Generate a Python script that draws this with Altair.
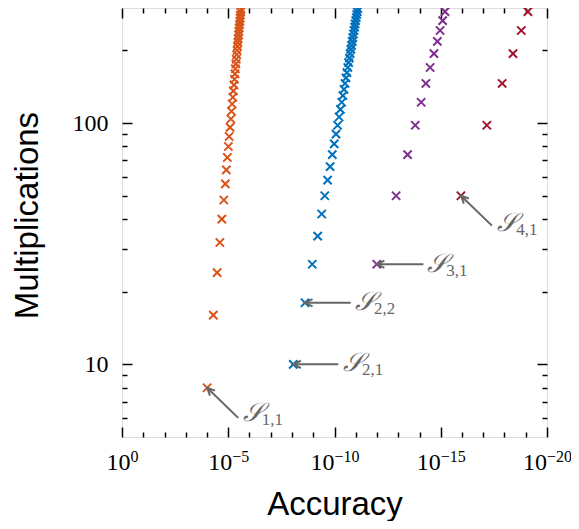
import math
import altair as alt
import pandas as pd

# ---------------- data ----------------
orange_mult = [8, 16, 24, 32, 40, 48, 56, 64, 72, 80, 88, 96, 104, 112, 120, 128, 136, 144,
               152, 160, 168, 176, 184, 192, 200, 208, 216, 224, 232, 240, 248, 256, 264, 272,
               280, 288, 296]
orange_log_acc = [-4.006, -4.298, -4.477, -4.604, -4.698, -4.793, -4.863, -4.910, -4.958, -5.005,
                  -5.042, -5.085, -5.122, -5.151, -5.184, -5.217, -5.240, -5.269, -5.292, -5.316,
                  -5.335, -5.358, -5.377, -5.396, -5.415, -5.434, -5.452, -5.467, -5.485, -5.500,
                  -5.514, -5.528, -5.547, -5.561, -5.570, -5.584, -5.598]

blue_mult = [10, 18, 26, 34, 42, 50, 58, 66, 74, 82, 90, 98, 106, 114, 122, 130, 138, 146, 154,
             162, 170, 178, 186, 194, 202, 210, 218, 226, 234, 242, 250, 258, 266, 274, 282, 290, 298]
blue_log_acc = [-8.058, -8.610, -8.954, -9.208, -9.397, -9.543, -9.675, -9.793, -9.896, -9.986,
                -10.071, -10.146, -10.217, -10.278, -10.339, -10.396, -10.448, -10.495, -10.542,
                -10.584, -10.627, -10.664, -10.702, -10.735, -10.768, -10.801, -10.834, -10.862,
                -10.891, -10.919, -10.947, -10.971, -10.999, -11.023, -11.046, -11.070, -11.093]

purple_mult = [26, 50, 74, 98, 122, 146, 170, 194, 218, 242, 266, 290]
purple_log_acc = [-11.99, -12.90, -13.44, -13.80, -14.08, -14.30, -14.50, -14.68, -14.84, -14.97,
                  -15.09, -15.20]

red_mult = [50, 98, 146, 194, 242, 290]
red_log_acc = [-15.95, -17.17, -17.89, -18.40, -18.79, -19.10]

series_names = ["S1", "S2", "S3", "S4"]
series_colors = ["#D95319", "#0072BD", "#7E2F8E", "#A2142F"]

# annotations
ann_sub = ["1,1", "2,1", "2,2", "3,1", "4,1"]
ann_tip_log_acc = [-4.006, -8.058, -8.610, -11.99, -15.95]
ann_tip_mult = [8, 10, 18, 26, 50]
ann_tail_log_acc = [-5.467, -10.179, -10.763, -14.185, -17.408]
ann_tail_mult = [6.0, 10, 18, 26, 37.6]
ann_text_log_acc = [-5.688, -10.40, -10.966, -14.36, -17.66]
ann_text_mult = [6.3, 10.1, 18.1, 26.1, 38.6]
ann_angle = [315, 270, 270, 270, 314]

# axis ticks / labels
x_major = [1, 1e-5, 1e-10, 1e-15, 1e-20]
x_major_base = ["10", "10", "10", "10", "10"]
x_major_exp = ["0", "−5", "−10", "−15", "−20"]
x_minor = [1e-1, 1e-2, 1e-3, 1e-4, 1e-6, 1e-7, 1e-8, 1e-9, 1e-11, 1e-12, 1e-13, 1e-14,
           1e-16, 1e-17, 1e-18, 1e-19]
y_major = [10, 100]
y_minor = [6, 7, 8, 9, 20, 30, 40, 50, 60, 70, 80, 90, 200]

# ---------------- tables ----------------
rows = []
for name, ms, ls in zip(series_names,
                        [orange_mult, blue_mult, purple_mult, red_mult],
                        [orange_log_acc, blue_log_acc, purple_log_acc, red_log_acc]):
    for m, l in zip(ms, ls):
        rows.append({"series": name, "mult": m, "acc": 10 ** l})
pts = pd.DataFrame(rows)

ann = pd.DataFrame({
    "sub": ann_sub,
    "tip_acc": [10 ** v for v in ann_tip_log_acc],
    "tip_mult": ann_tip_mult,
    "tail_acc": [10 ** v for v in ann_tail_log_acc],
    "tail_mult": ann_tail_mult,
    "text_acc": [10 ** v for v in ann_text_log_acc],
    "text_mult": ann_text_mult,
    "angle": ann_angle,
})

x_scale = alt.Scale(type="log", domain=[1e-20, 1], reverse=True, nice=False)
y_scale = alt.Scale(type="log", domain=[5, 300], nice=False)


def make_label_expr(labels):
    expr = ""
    for v, t in zip(x_major, labels):
        expr += f"abs(log(datum.value)/log(10) - ({round(math.log10(v))})) < 0.1 ? '{t}' : "
    return expr + "''"


# split point between "10" and its exponent, so that each whole label is centred on its tick
split_offset = {"condition": [{"test": "datum.value > 0.5", "value": 8},
                              {"test": "datum.value > 1e-6", "value": 3.5}],
                "value": -0.5}

SERIF = "Liberation Serif"
SANS = "Liberation Sans"
GRAY = "#666666"
XSHAPE = "M-1,-1L1,1M-1,1L1,-1"
CHEVRON = "M-0.9,1.9L0,0L0.9,1.9"

points = alt.Chart(pts).mark_point(shape=XSHAPE, filled=False, size=68, strokeWidth=2,
                                   opacity=1).encode(
    x=alt.X("acc:Q", scale=x_scale,
            axis=alt.Axis(orient="bottom", values=x_major, labelExpr=make_label_expr(x_major_base),
                          ticks=False, tickSize=0, domain=False, grid=False, labelPadding=13,
                          labelFlush=False, labelOverlap=False, labelFont=SERIF,
                          labelFontSize=24, labelAlign="right", labelOffset=split_offset,
                          labelColor="black", title="Accuracy", titleFont=SANS,
                          titleFontSize=33, titleFontWeight="normal", titleColor="black",
                          titleBaseline="alphabetic", titleY=77)),
    y=alt.Y("mult:Q", scale=y_scale,
            axis=alt.Axis(orient="left", values=y_major, format="d", ticks=False, tickSize=0,
                          domain=False, grid=False, labelPadding=14, labelFlush=False,
                          labelOverlap=False, labelFont=SERIF, labelFontSize=24,
                          labelColor="black", title="Multiplications", titleFont=SANS,
                          titleFontSize=33, titleFontWeight="normal", titleColor="black",
                          titleBaseline="alphabetic", titleX=-85, titleY=207)),
    color=alt.Color("series:N", scale=alt.Scale(domain=series_names, range=series_colors),
                    legend=None),
)

exponents = alt.Chart(pts).mark_point(opacity=0).encode(
    x=alt.X("acc:Q", scale=x_scale,
            axis=alt.Axis(orient="bottom", values=x_major, labelExpr=make_label_expr(x_major_exp),
                          ticks=False, tickSize=0, domain=False, grid=False, labelPadding=11,
                          labelFlush=False, labelOverlap=False, labelFont=SERIF,
                          labelFontSize=16, labelAlign="left", labelOffset=split_offset,
                          labelColor="black", title=None)),
    y=alt.Y("mult:Q", scale=y_scale, axis=None),
)


def tick_layer(xorient, yorient, xvals, yvals, size):
    return alt.Chart(pts).mark_point(opacity=0).encode(
        x=alt.X("acc:Q", scale=x_scale,
                axis=alt.Axis(orient=xorient, values=xvals, labels=False, domain=False,
                              grid=False, title=None, tickSize=size, offset=-size,
                              tickWidth=1.5, tickColor="black")),
        y=alt.Y("mult:Q", scale=y_scale,
                axis=alt.Axis(orient=yorient, values=yvals, labels=False, domain=False,
                              grid=False, title=None, tickSize=size, offset=-size,
                              tickWidth=1.5, tickColor="black")),
    )


ticks = [
    tick_layer("bottom", "left", x_minor, y_minor, 5),
    tick_layer("bottom", "left", x_major, y_major, 10),
    tick_layer("top", "right", x_minor, y_minor, 5),
    tick_layer("top", "right", x_major, y_major, 10),
]

noax = dict(axis=None)
lines = alt.Chart(ann).mark_rule(color=GRAY, strokeWidth=2).encode(
    x=alt.X("tip_acc:Q", scale=x_scale, **noax),
    y=alt.Y("tip_mult:Q", scale=y_scale, **noax),
    x2="tail_acc:Q",
    y2="tail_mult:Q",
)
heads = alt.Chart(ann).mark_point(shape=CHEVRON, filled=False, size=64, strokeWidth=2,
                                  color=GRAY, opacity=1).encode(
    x=alt.X("tip_acc:Q", scale=x_scale, **noax),
    y=alt.Y("tip_mult:Q", scale=y_scale, **noax),
    angle=alt.Angle("angle:Q", scale=None),
)
sym = alt.Chart(ann).mark_text(align="left", baseline="middle", font=SERIF, fontSize=26,
                               color=GRAY, fontStyle="italic").encode(
    x=alt.X("text_acc:Q", scale=x_scale, **noax),
    y=alt.Y("text_mult:Q", scale=y_scale, **noax),
    text=alt.value("𝒮"),
)
sub = alt.Chart(ann).mark_text(align="left", baseline="middle", font=SERIF, fontSize=17,
                               color=GRAY, dx=19, dy=7).encode(
    x=alt.X("text_acc:Q", scale=x_scale, **noax),
    y=alt.Y("text_mult:Q", scale=y_scale, **noax),
    text="sub:N",
)

chart = alt.layer(points, exponents, *ticks, lines, heads, sym, sub).resolve_axis(
    x="independent", y="independent"
).properties(
    width=425, height=429,
    autosize=alt.AutoSizeParams(type="none"),
    padding={"left": 114, "top": 0, "right": 24, "bottom": 84},
).configure_view(stroke="black", strokeWidth=1.5).configure(background="white")

chart.save("out.html", embed_options={"renderer": "svg", "actions": False})
